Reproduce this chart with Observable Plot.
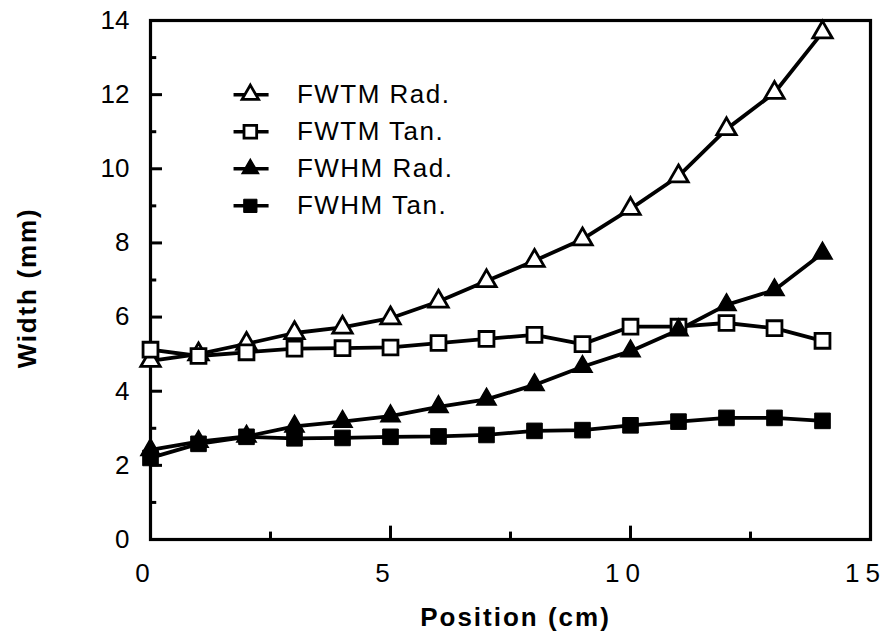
<!DOCTYPE html>
<html><head><meta charset="utf-8">
<script src="https://cdn.jsdelivr.net/npm/d3@7"></script>
<script src="https://cdn.jsdelivr.net/npm/@observablehq/plot@0.6"></script>
<style>body{margin:0;background:#fff}</style>
</head><body><div id="chart"></div>
<script>
const positions = [0,1,2,3,4,5,6,7,8,9,10,11,12,13,14];
const fwtmRad = [4.82,5.0,5.28,5.57,5.72,5.97,6.42,6.97,7.52,8.1,8.92,9.8,11.07,12.05,13.68];
const fwtmTan = [5.12,4.95,5.05,5.15,5.16,5.18,5.3,5.41,5.52,5.27,5.74,5.74,5.84,5.7,5.36];
const fwhmRad = [2.42,2.64,2.78,3.05,3.18,3.33,3.58,3.78,4.17,4.66,5.08,5.65,6.33,6.73,7.72];
const fwhmTan = [2.2,2.58,2.77,2.73,2.74,2.77,2.78,2.82,2.93,2.95,3.08,3.18,3.28,3.28,3.2];
const seriesNames = ["FWTM Rad.","FWTM Tan.","FWHM Rad.","FWHM Tan."];
const xTicks = [0,5,10,15];
const xMinorTicks = [2.5,7.5,12.5];
const yTicks = [0,2,4,6,8,10,12,14];
const yMinorTicks = [1,3,5,7,9,11,13];

const styles = [
  {symbol:"triangle", fill:"white", r:7.2, sw:2.8},
  {symbol:"square", fill:"white", r:8.4, sw:2.8},
  {symbol:"triangle", fill:"black", r:7.2, sw:1.5},
  {symbol:"square", fill:"black", r:8.8, sw:1}
];
const valueSets = [fwtmRad, fwtmTan, fwhmRad, fwhmTan];
const series = seriesNames.map((name,i) => ({
  name, ...styles[i],
  data: positions.map((x,j) => ({x, y: valueSets[i][j]}))
}));

const marks = [
  Plot.ruleY(yTicks, {x1: 0, x2: 0.25, y: d=>d, stroke:"black", strokeWidth:3}),
  Plot.ruleY(yMinorTicks, {x1: 0, x2: 0.13, y: d=>d, stroke:"black", strokeWidth:3}),
  Plot.ruleX(xTicks, {y1: 0, y2: 0.36, x: d=>d, stroke:"black", strokeWidth:3}),
  Plot.ruleX(xMinorTicks, {y1: 0, y2: 0.2, x: d=>d, stroke:"black", strokeWidth:3}),
  Plot.frame({stroke:"black", strokeWidth:3.2}),
  Plot.axisX({ticks: xTicks, tickSize:0, tickPadding:24, label:null, fontSize:26, dx:-5, tickFormat: d=>String(d)}),
  Plot.axisY({ticks: yTicks, tickSize:0, tickPadding:21, label:null, fontSize:26, tickFormat: d=>String(d)}),
  Plot.text(["Position (cm)"], {text:d=>d, frameAnchor:"bottom", textAnchor:"middle", lineAnchor:"middle", dy:78, dx:5, fontSize:26, fontWeight:"bold"}),
  Plot.text(["Width (mm)"], {text:d=>d, frameAnchor:"left", textAnchor:"middle", lineAnchor:"middle", dx:-123, dy:8, rotate:-90, fontSize:26, fontWeight:"bold"})
];
for (const s of series) {
  marks.push(Plot.line(s.data, {x:"x", y:"y", stroke:"black", strokeWidth:3.8}));
}
for (const s of series) {
  marks.push(Plot.dot(s.data, {x:"x", y:"y", symbol: s.symbol, r: s.r, fill: s.fill, stroke:"black", strokeWidth: s.sw}));
}
// legend
series.forEach((s,i) => {
  const ly = 12 - i;
  marks.push(Plot.link([s], {x1: 1.73, x2: 2.46, y1: ly, y2: ly, stroke:"black", strokeWidth:3.5}));
  marks.push(Plot.dot([s], {x: 2.08, y: ly, symbol: s.symbol, r: s.r*0.85, fill: s.fill, stroke:"black", strokeWidth: s.sw}));
  marks.push(Plot.text([s], {x: 3.05, y: ly, text: d=>d.name, textAnchor:"start", fontSize:26}));
});

const chart = Plot.plot({
  width: 889, height: 634,
  marginLeft: 150, marginRight: 19, marginTop: 20, marginBottom: 95,
  style: {fontFamily: "'Liberation Sans', Arial, sans-serif", fontSize: "26px", background:"white", color:"black"},
  x: {domain:[0,15]},
  y: {domain:[0,14]},
  marks
});
document.getElementById("chart").appendChild(chart);
const svg = d3.select(chart);
svg.selectAll('g[aria-label="x-axis tick label"] text').attr("letter-spacing","6px");
svg.selectAll('g[aria-label="text"] text').each(function(){
  const t = this.textContent;
  if (seriesNames.includes(t)) d3.select(this).attr("letter-spacing","1.5px");
  if (t === "Position (cm)") d3.select(this).attr("letter-spacing","2px");
  if (t === "Width (mm)") d3.select(this).attr("letter-spacing","1.8px");
});
</script></body></html>
